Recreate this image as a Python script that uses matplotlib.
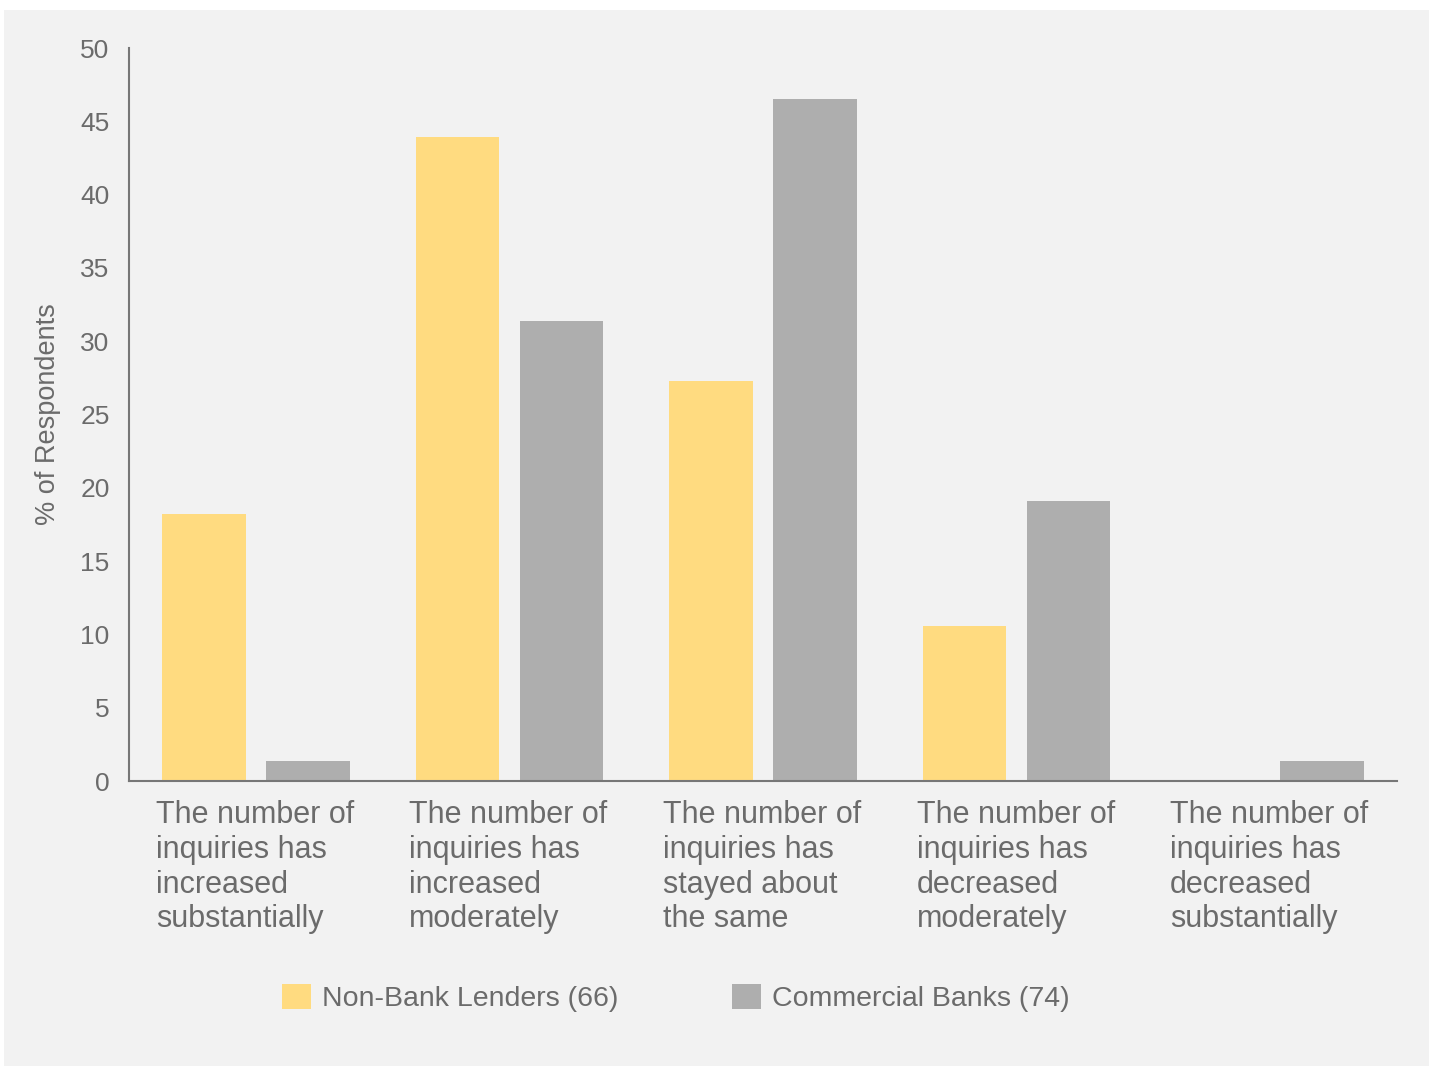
import numpy as np
import matplotlib.pyplot as plt
from matplotlib.patches import Rectangle
from matplotlib.transforms import ScaledTranslation

categories = [
    'The number of\ninquiries has\nincreased\nsubstantially',
    'The number of\ninquiries has\nincreased\nmoderately',
    'The number of\ninquiries has\nstayed about\nthe same',
    'The number of\ninquiries has\ndecreased\nmoderately',
    'The number of\ninquiries has\ndecreased\nsubstantially',
]
non_bank = [18.2, 43.9, 27.3, 10.6, 0.0]
commercial = [1.35, 31.4, 46.5, 19.1, 1.35]
series_names = ['Non-Bank Lenders (66)', 'Commercial Banks (74)']

text_color = '#6b6b6b'
plt.rcParams['font.family'] = ['Liberation Sans', 'DejaVu Sans']

fig = plt.figure(figsize=(14.35, 10.67), dpi=100)
fig.patch.set_facecolor('white')
# grey panel behind everything
fig.patches.append(Rectangle((4 / 1435, 1 / 1067), 1425 / 1435, 1056 / 1067,
                             transform=fig.transFigure, facecolor='#f2f2f2',
                             edgecolor='none', zorder=-10))

ax = fig.add_axes([0.0899, 0.268, 0.8836, 0.687])
ax.set_facecolor('none')
ax.set_zorder(1)

x = np.arange(len(categories))
w = 0.33
ax.bar(x - 0.205, non_bank, w, color='#ffdb80', label=series_names[0])
ax.bar(x + 0.205, commercial, w, color='#aeaeae', label=series_names[1])

ax.set_xlim(-0.5, 4.5)
ax.set_ylim(0, 50)
ax.set_yticks(range(0, 51, 5))
ax.tick_params(axis='y', length=0, labelsize=19, labelcolor=text_color, pad=14)
ax.tick_params(axis='x', length=0, labelsize=22, labelcolor=text_color, pad=14)

ax.set_xticks(x)
ax.set_xticklabels(categories, ha='left', linespacing=1.2)
shift = ScaledTranslation(-1.0, 0, fig.dpi_scale_trans)
for lbl in ax.get_xticklabels():
    lbl.set_transform(lbl.get_transform() + shift)

for side in ['top', 'right']:
    ax.spines[side].set_visible(False)
for side in ['left', 'bottom']:
    ax.spines[side].set_color('#777777')
    ax.spines[side].set_linewidth(1.5)

ax.set_ylabel('% of Respondents', fontsize=19.5, color=text_color, labelpad=14)

fig.legend(loc='center', bbox_to_anchor=(0.471, 0.0647), ncol=2, frameon=False,
           fontsize=20.5, labelcolor=text_color, handlelength=1.0, handleheight=1.0,
           handletextpad=0.4, columnspacing=4.0)

fig.savefig('out.png', dpi=100)
